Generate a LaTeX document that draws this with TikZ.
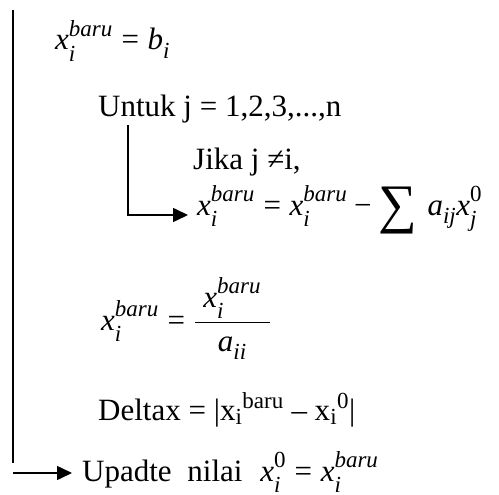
\RequirePackage{fix-cm}
\documentclass[tikz,border=0pt]{standalone}
\usepackage{amsmath}
\usepackage{fontspec}
\setmainfont{Liberation Serif}
\usetikzlibrary{arrows.meta}
\DeclareMathSizes{31}{31}{23}{16}

\newcommand{\vi}[1]{\text{\itshape #1}}
\newcommand{\bawah}[1]{\raisebox{-4pt}{$\scriptstyle\vi{#1}$}}
\newcommand{\atas}[1]{\raisebox{2pt}{$\scriptstyle\vi{#1}$}}
\newcommand{\atasr}[1]{\raisebox{2pt}{$\scriptstyle\text{#1}$}}
\newcommand{\xbaru}{\vi{x}_{\bawah{i}}^{\atas{baru}}}
\newcommand{\sama}{\mathrel{\text{=}}}
\newcommand{\kurang}{\mathbin{\text{−}}}
\newcommand{\jumlah}{\mathop{\raisebox{-7pt}{\scalebox{1.75}{\text{∑}}}}}

\begin{document}
\begin{tikzpicture}[x=1pt,y=-1pt,
    txt/.style={anchor=base west, inner sep=0pt, font=\fontsize{31}{37}\selectfont},
    line/.style={line width=1.6pt},
    arr/.style={line width=1.6pt, -{Triangle[length=15pt,width=14pt]}}]
    \useasboundingbox (0,0) rectangle (499,495);

    \node[txt] (init) at (55,50) {$\xbaru \sama \vi{b}_{\bawah{i}}$};
    \node[txt] (untuk) at (98,117) {Untuk j = 1,2,3,...,n};
    \node[txt] (jika) at (193,170) {Jika j ≠i,};
    \node[txt] (eq) at (197,215) {$\xbaru \sama \xbaru \kurang \jumlah\, \vi{a}_{\bawah{ij}}\vi{x}_{\bawah{j}}^{\atasr{0}}$};
    \node[txt] (bagi) at (101,330) {$\xbaru \sama \dfrac{\;\xbaru\;}{\vi{a}_{\bawah{ii}}}$};
    \node[txt] (delta) at (98,420) {Deltax = |x\textsubscript{i}\textsuperscript{baru} – x\textsubscript{i}\textsuperscript{0}|};
    \node[txt] (upd) at (82,481) {Upadte\hspace{8pt} nilai\hspace{10pt} $\vi{x}_{\bawah{i}}^{\atasr{0}} \sama \xbaru$};

    % loop j
    \coordinate (jtop) at (128,125);
    \coordinate (jbot) at (128,215);
    \draw[arr, shorten >=9pt] (jtop) -- (jbot) -- (jbot -| eq.west);

    % loop utama
    \coordinate (otop) at (13,10);
    \coordinate (obot) at (13,463);
    \coordinate (oarr) at (13,473);
    \draw[line] (otop) -- (obot);
    \draw[arr, shorten >=10pt] (oarr) -- (oarr -| upd.west);
\end{tikzpicture}
\end{document}
